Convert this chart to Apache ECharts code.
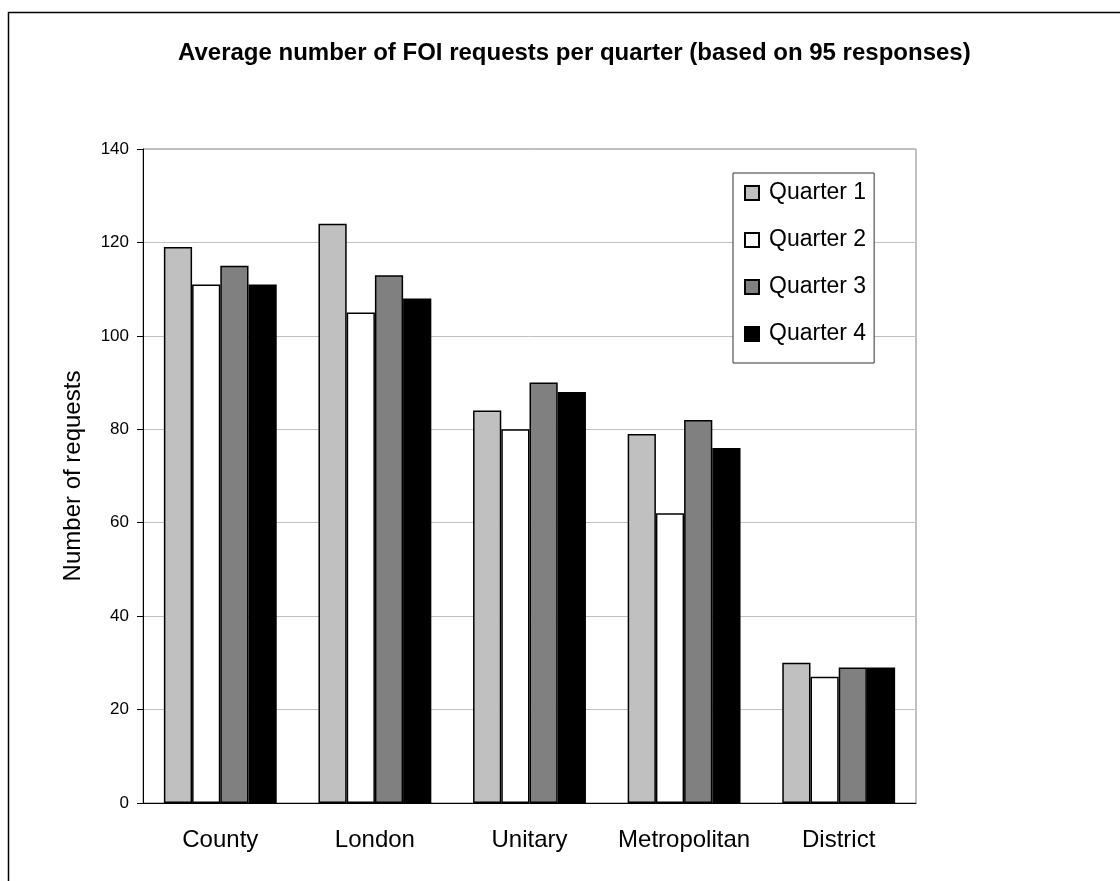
<!DOCTYPE html>
<html>
<head>
<meta charset="utf-8">
<script src="https://cdn.jsdelivr.net/npm/echarts@6/dist/echarts.min.js"></script>
<style>
html,body{margin:0;padding:0;background:#fff;}
#chart{width:1120px;height:881px;}
</style>
</head>
<body>
<div id="chart"></div>
<script>
const categories = ['County', 'London', 'Unitary', 'Metropolitan', 'District'];
const quarter1 = [119, 124, 84, 79, 30];
const quarter2 = [111, 105, 80, 62, 27];
const quarter3 = [115, 113, 90, 82, 29];
const quarter4 = [111, 108, 88, 76, 29];
const seriesNames = ['Quarter 1', 'Quarter 2', 'Quarter 3', 'Quarter 4'];
const seriesColors = ['#C0C0C0', '#FFFFFF', '#808080', '#000000'];
const seriesData = [quarter1, quarter2, quarter3, quarter4];

const FONT = '"Liberation Sans", Arial, sans-serif';
const chart = echarts.init(document.getElementById('chart'), null, {renderer: 'canvas'});

chart.setOption({
  backgroundColor: '#ffffff',
  animation: false,
  graphic: [{
    type: 'rect',
    shape: {x: 8.5, y: 12.5, width: 1200, height: 1000},
    style: {fill: 'none', stroke: '#000', lineWidth: 1.5},
    silent: true,
    z: -10
  }],
  title: {
    text: 'Average number of FOI requests per quarter (based on 95 responses)',
    left: 173,
    top: 36,
    textStyle: {fontFamily: FONT, fontSize: 24, fontWeight: 'bold', color: '#000'}
  },
  legend: {
    orient: 'vertical',
    left: 733,
    top: 173,
    padding: [8.5, 8, 17.5, 11],
    backgroundColor: '#fff',
    borderColor: '#333',
    borderWidth: 1,
    itemWidth: 14,
    itemHeight: 14,
    itemGap: 24,
    icon: 'rect',
    textStyle: {fontFamily: FONT, fontSize: 23, color: '#000', padding: [0, 0, 0, 5]},
    data: seriesNames
  },
  grid: {
    left: 143, right: 204, top: 149, bottom: 78,
    show: true, borderColor: '#808080', borderWidth: 1,
    containLabel: false
  },
  xAxis: {
    type: 'category',
    data: categories,
    axisLine: {lineStyle: {color: '#000', width: 1}},
    axisTick: {length: 6, lineStyle: {color: '#000'}},
    axisLabel: {interval: 0, fontFamily: FONT, fontSize: 24, color: '#000', margin: 25}
  },
  yAxis: {
    type: 'value',
    min: 0, max: 140, interval: 20,
    name: 'Number of requests',
    nameLocation: 'middle',
    nameGap: 58,
    nameTextStyle: {fontFamily: FONT, fontSize: 24, color: '#000'},
    axisLine: {show: true, lineStyle: {color: '#000', width: 1}},
    axisTick: {show: true, length: 6, lineStyle: {color: '#000'}},
    axisLabel: {fontFamily: FONT, fontSize: 17, color: '#000', margin: 14},
    splitLine: {lineStyle: {color: '#C0C0C0', width: 1}}
  },
  series: seriesNames.map((n, i) => ({
    name: n,
    type: 'bar',
    data: seriesData[i],
    barGap: '0%',
    barCategoryGap: '27%',
    itemStyle: {color: seriesColors[i], borderColor: '#000', borderWidth: 1.5}
  }))
});
</script>
</body>
</html>
